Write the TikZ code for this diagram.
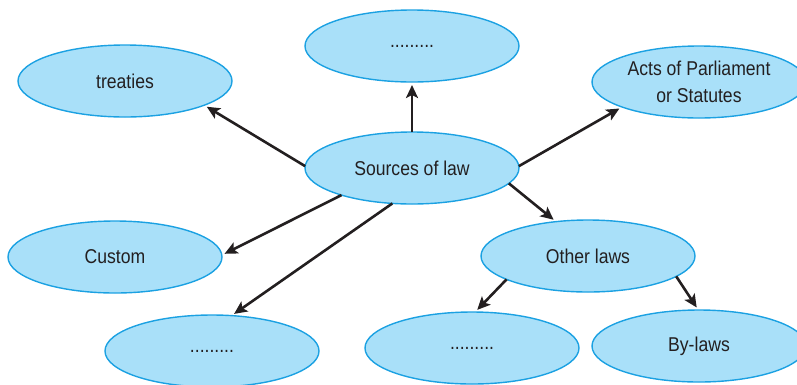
\documentclass[tikz,border=0pt]{standalone}
\usepackage{fontspec}
\setmainfont[FakeStretch=0.88]{Liberation Sans}
\usetikzlibrary{shapes.geometric,arrows.meta}
\definecolor{bubblefill}{HTML}{A9E0F9}
\definecolor{bubbleline}{HTML}{1BA1E2}
\definecolor{inkdark}{HTML}{231F20}
\begin{document}
\begin{tikzpicture}[x=1pt,y=-1pt,
    bubble/.style={ellipse, draw=bubbleline, line width=1.4pt, fill=bubblefill,
      minimum width=214pt, minimum height=72pt, inner sep=0pt, outer sep=0pt,
      align=center, text=inkdark, font=\fontsize{20}{27}\selectfont},
    link/.style={draw=inkdark, line width=2.6pt, shorten >=3pt,
      -{Stealth[length=13pt,width=12pt,inset=3pt]}}]
  \useasboundingbox (0,0) rectangle (797,384);

  \node[bubble] (src)     at (412,168) {Sources of law};
  \node[bubble] (treaty)  at (125,81)  {treaties};
  \node[bubble] (top)     at (412,46)  {.........};
  \node[bubble] (acts)    at (699,82)  {Acts of Parliament\\or Statutes};
  \node[bubble] (custom)  at (115,257) {Custom};
  \node[bubble] (blank1)  at (212,351) {.........};
  \node[bubble] (other)   at (588,256) {Other laws};
  \node[bubble] (blank2)  at (472,348) {.........};
  \node[bubble] (bylaws)  at (699,346) {By-laws};

  \draw[link] (src.179)   -- (treaty.-17);
  \draw[link] (src.90)    -- (top.270);
  \draw[link] (src.1)     -- (acts.198.5);
  \draw[link] (src.201.4) -- (custom.1.6);
  \draw[link] (src.241.5) -- (blank1.61);
  \draw[link] (src.-9)    -- (other.133.4);
  \draw[link] (other.196.3) -- (blank2.85.6);
  \draw[link] (other.-13.4) -- (bylaws.91.5);
\end{tikzpicture}
\end{document}
